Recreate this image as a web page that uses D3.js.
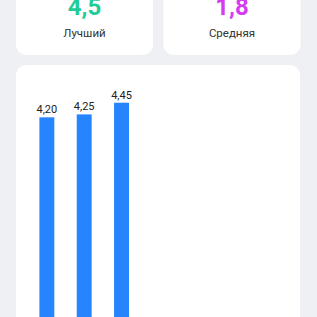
<!DOCTYPE html>
<html><head><meta charset="utf-8">
<script src="https://cdn.jsdelivr.net/npm/d3@7"></script>
<style>
html,body{margin:0;padding:0;background:#eef0f3;}
svg{display:block;font-family:Roboto,"Noto Sans",sans-serif;}
</style></head>
<body>
<svg id="c" width="317" height="317"></svg>
<script>
const statValues = ["4,5", "1,8"];
const statLabels = ["Лучший", "Средняя"];
const statColors = ["#22cc96", "#d53cf2"];
const categories = ["A", "B", "C"];
const values = [4.20, 4.25, 4.45];
const valueLabels = ["4,20", "4,25", "4,45"];

const svg = d3.select("#c");
svg.append("rect").attr("width",317).attr("height",317).attr("fill","#eef0f3");

// top cards
const cardX = [16, 163.5];
const cardW = 137;
cardX.forEach((x,i)=>{
  svg.append("rect").attr("x",x).attr("y",-20).attr("width",cardW).attr("height",75)
    .attr("rx",10).attr("fill","#fff");
  svg.append("text").attr("x",x+cardW/2).attr("y",15).attr("text-anchor","middle")
    .attr("font-size",24).attr("font-weight",700).attr("fill",statColors[i]).text(statValues[i]);
  svg.append("text").attr("x",x+cardW/2).attr("y",37).attr("text-anchor","middle")
    .attr("font-size",11.5).attr("fill","#333").text(statLabels[i]);
});

// chart card
svg.append("rect").attr("x",16).attr("y",65).attr("width",284).attr("height",290)
  .attr("rx",10).attr("fill","#fff");

const x = d3.scaleBand().domain(categories).range([28.2,140.2]).paddingInner(0.6).paddingOuter(0.3);
const y = d3.scaleLinear().domain([0,5]).range([362.6,70.6]);

const g = svg.append("g");
g.selectAll("rect.bar").data(values).join("rect").attr("class","bar")
  .attr("x",(d,i)=>x(categories[i])).attr("width",x.bandwidth())
  .attr("y",d=>y(d)).attr("height",d=>y(0)-y(d)).attr("fill","#2684ff");
g.selectAll("text.lbl").data(values).join("text").attr("class","lbl")
  .attr("x",(d,i)=>x(categories[i])+x.bandwidth()/2).attr("y",d=>y(d)-4)
  .attr("text-anchor","middle").attr("font-size",11).attr("fill","#222")
  .text((d,i)=>valueLabels[i]);
</script>
</body></html>
